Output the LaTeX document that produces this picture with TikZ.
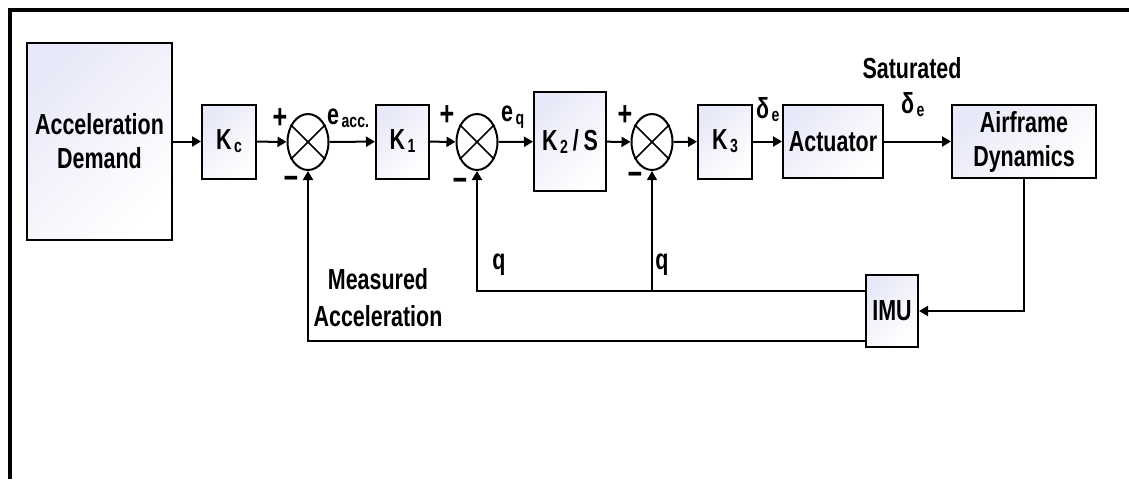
\documentclass[tikz,border=0pt]{standalone}
\usepackage{fontspec}
\setmainfont{Liberation Sans}[FakeStretch=0.74]
\usetikzlibrary{arrows.meta,shapes.geometric,shadows}
\definecolor{boxfill}{RGB}{232,233,248}
\newcommand\sbs[1]{\kern2.5pt\raisebox{-3pt}{\fontsize{19}{19}\selectfont #1}}
\begin{document}
\begin{tikzpicture}[x=1pt,y=-1pt,
  font=\fontsize{29}{34}\selectfont\bfseries,
  blk/.style={draw, line width=2pt, top color=boxfill, bottom color=white, shading angle=45,
    inner sep=0pt, align=center,
    drop shadow={shadow xshift=1.2pt, shadow yshift=-1.2pt, opacity=0.35}},
  sumj/.style={draw, ellipse, line width=2pt, minimum width=41pt, minimum height=56pt, inner sep=0pt, fill=white},
  arr/.style={line width=2pt, -{Triangle[length=9pt,width=10pt]}},
  lab/.style={inner sep=0pt},
  sgn/.style={inner sep=0pt, font=\fontsize{34}{34}\selectfont\bfseries}]
\useasboundingbox (0,0) rectangle (1129,479);
\draw[line width=4pt] (9.5,479) -- (9.5,9.5) -- (1129,9.5);

% blocks
\node[blk, minimum width=145pt, minimum height=197pt] (ad) at (99.5,141.5) {Acceleration\\Demand};
\node[blk, minimum width=54pt, minimum height=74pt] (kc) at (229,141.5) {K\sbs{c}};
\node[sumj] (s1) at (308,142) {};
\node[blk, minimum width=53pt, minimum height=74pt] (k1) at (402.5,141.5) {K\sbs{1}};
\node[sumj] (s2) at (477,142) {};
\node[blk, minimum width=72pt, minimum height=99pt] (k2) at (570,141.5) {K\sbs{2}\,/\,S};
\node[sumj] (s3) at (652,142) {};
\node[blk, minimum width=54pt, minimum height=74pt] (k3) at (725,141.5) {K\sbs{3}};
\node[blk, minimum width=100pt, minimum height=73pt] (act) at (833,141.5) {Actuator};
\node[blk, minimum width=144pt, minimum height=73pt] (air) at (1024,141.5) {Airframe\\Dynamics};
\node[blk, minimum width=52pt, minimum height=72pt] (imu) at (892,311) {IMU};

% crosses in summing junctions
\foreach \s in {s1,s2,s3}{
  \draw[line width=1.6pt] (\s.45) -- (\s.225);
  \draw[line width=1.6pt] (\s.135) -- (\s.315);
}

% forward path
\draw[arr] (ad) -- (kc);
\draw[arr] (kc) -- (s1);
\draw[arr] (s1) -- (k1);
\draw[arr] (k1) -- (s2);
\draw[arr] (s2) -- (k2);
\draw[arr] (k2) -- (s3);
\draw[arr] (s3) -- (k3);
\draw[arr] (k3) -- (act);
\draw[arr] (act) -- (air);

% feedback
\draw[arr] (air.south) |- (imu.east);
\coordinate (imuhi) at (866,291);
\coordinate (imulo) at (866,341);
\coordinate (br) at (652,291);
\draw[arr] (imulo) -| (s1.south);
\draw[arr] (imuhi) -| (s2.south);
\draw[line width=1.3pt, -{Triangle[length=9pt,width=10pt]}] (br) -- (s3.south);

% labels
\node[sgn] (p1) at (280,119) {+};
\node[sgn] (m1) at (291,183) {−};
\node[lab, anchor=west] (eacc) at (327,118) {e\sbs{acc.}};
\node[sgn] (p2) at (447,116) {+};
\node[sgn] (m2) at (460,185) {−};
\node[lab, anchor=west] (eq) at (501,117) {e\sbs{q}};
\node[sgn] (p3) at (625,116) {+};
\node[sgn] (m3) at (635,179) {−};
\node[lab, anchor=west] (de1) at (756,110) {δ\sbs{e}};
\node[lab] (sat) at (912,68) {Saturated};
\node[lab, anchor=west] (de2) at (901,105) {δ\sbs{e}};
\node[lab] (q1) at (499,265) {q};
\node[lab] (q2) at (662,265) {q};
\node[lab, align=center, font=\fontsize{29}{37}\selectfont\bfseries] (meas) at (378,298) {Measured\\Acceleration};
\end{tikzpicture}
\end{document}
